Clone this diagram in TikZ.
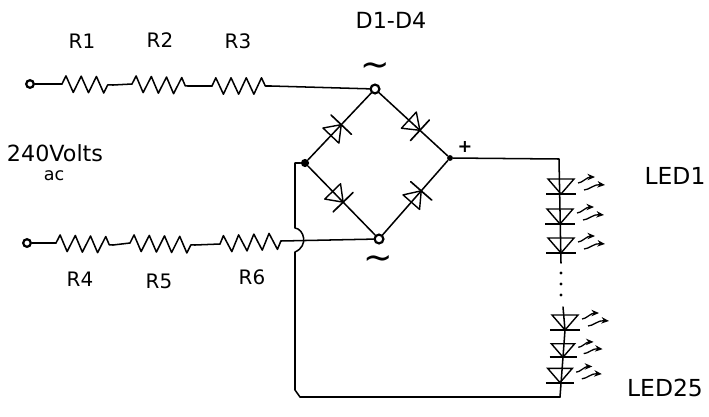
\documentclass[tikz,border=0pt]{standalone}
\usepackage{fontspec}
\setmainfont{DejaVu Sans}
\usetikzlibrary{decorations.pathmorphing, arrows.meta}

\tikzset{
    wire/.style={line width=1.3pt, line join=round, line cap=round},
    res/.style={wire, decorate, decoration={zigzag, amplitude=7pt, segment length=13pt}},
    openpt/.style={circle, draw, line width=1.9pt, fill=white, inner sep=0pt, minimum size=7.5pt},
    fillpt/.style={circle, fill, inner sep=0pt, minimum size=7pt},
    lbl/.style={font=\fontsize{17}{19}\selectfont, inner sep=0pt},
    ledlbl/.style={font=\fontsize{20}{22}\selectfont, inner sep=0pt},
    pics/bridgediode/.style={code={
        \draw[line width=1.2pt] (-8,-11) -- (7,0) -- (-8,11) -- cycle;
        \draw[line width=1.4pt] (7,-14) -- (7,14);
    }},
    pics/led/.style={code={
        \draw[line width=1.2pt] (-13,-7) -- (13,-7) -- (0,8) -- cycle;
        \draw[line width=1.7pt] (-15,8) -- (15,8);
        \draw[line width=1.1pt, -{Stealth[length=6.5pt, width=5.5pt]}] (17,-3) .. controls (21,-3) and (26,-9) .. (34,-9);
        \draw[line width=1.1pt, -{Stealth[length=6.5pt, width=5.5pt]}] (23,4) .. controls (28,4) and (33,-2) .. (44,-1);
    }},
}

\begin{document}
\begin{tikzpicture}[x=0.03cm, y=-0.03cm]
    \useasboundingbox (0,0) rectangle (709,416);

    % bridge corners and input terminals
    \node[openpt] (ac1) at (375,89) {};
    \node[openpt] (ac2) at (379,239) {};
    \node[fillpt] (neg) at (305,163) {};
    \node[fillpt, minimum size=5pt] (pos) at (450,158) {};
    \node[openpt, minimum size=6.5pt] (in1) at (30,84) {};
    \node[openpt, minimum size=6.5pt] (in2) at (27,243) {};

    \coordinate (r1a) at (62,84);
    \coordinate (r1b) at (113,85);
    \coordinate (r2a) at (132,84);
    \coordinate (r2b) at (188,86);
    \coordinate (r3a) at (212,86);
    \coordinate (r3b) at (271,86);
    \coordinate (r4a) at (56,243);
    \coordinate (r4b) at (113,245);
    \coordinate (r5a) at (130,243);
    \coordinate (r5b) at (195,245);
    \coordinate (r6a) at (220,244);
    \coordinate (r6b) at (281,241);

    \foreach \a/\b in {r1a/r1b, r2a/r2b, r3a/r3b, r4a/r4b, r5a/r5b, r6a/r6b}
        \draw[res] (\a) -- (\b);

    \draw[wire] (in1) -- (r1a) (r1b) -- (r2a) (r2b) -- (r3a) (r3b) -- (ac1);
    \draw[wire] (in2) -- (r4a) (r4b) -- (r5a) (r5b) -- (r6a) (r6b) -- (ac2);

    % bridge
    \draw[wire] (neg) -- pic[pos=0.45, sloped]{bridgediode} (ac1);
    \draw[wire] (ac1) -- pic[pos=0.52, sloped]{bridgediode} (pos);
    \draw[wire] (neg) -- pic[pos=0.45, sloped]{bridgediode} (ac2);
    \draw[wire] (ac2) -- pic[pos=0.52, sloped]{bridgediode} (pos);

    % return wire with the hop over the input line
    \coordinate (hopa) at (295,228);
    \coordinate (hopb) at (295,252);
    \draw[wire] (neg) -- (295,163) -- (hopa) .. controls (304,229) and (309,246) .. (hopb)
        -- (295,390) -- (300,397) -- (560,397);

    % led string
    \coordinate (ledtop) at (559,159);
    \draw[wire] (pos) -- (ledtop) -- (561,263);
    \draw[wire] (563,307) -- (565,330) -- (563,357) -- (560,397);
    \pic at (561,186) {led};
    \pic at (560,216) {led};
    \pic at (561,245) {led};
    \pic at (565,322) {led};
    \pic[scale=0.9] at (563,350) {led};
    \pic[scale=0.95] at (560,375) {led};
    \fill (561,273) circle (1.3pt) (561,284) circle (1.3pt) (561,295) circle (1.3pt);

    \node[lbl] (r1) at (82,41) {R1};
    \node[lbl] (r2) at (160,40) {R2};
    \node[lbl] (r3) at (238,41) {R3};
    \node[lbl] (r4) at (80,279) {R4};
    \node[lbl] (r5) at (159,281) {R5};
    \node[lbl] (r6) at (252,277) {R6};
    \node[lbl, font=\fontsize{19}{21}\selectfont] (d14) at (391,20) {D1-D4};
    \node[lbl, font=\fontsize{30}{32}\selectfont] (tilde1) at (375,69) {\textasciitilde};
    \node[lbl, font=\fontsize{30}{32}\selectfont] (tilde2) at (378,262) {\textasciitilde};
    \node[lbl, font=\fontsize{15}{17}\selectfont\bfseries] (plus) at (465,147) {+};
    \node[lbl, font=\fontsize{19}{21}\selectfont] (volts) at (55,153) {240Volts};
    \node[lbl, font=\fontsize{15}{17}\selectfont] (acl) at (54,176) {ac};
    \node[ledlbl] (led1) at (675,176) {LED1};
    \node[ledlbl] (led25) at (665,388) {LED25};
\end{tikzpicture}
\end{document}
